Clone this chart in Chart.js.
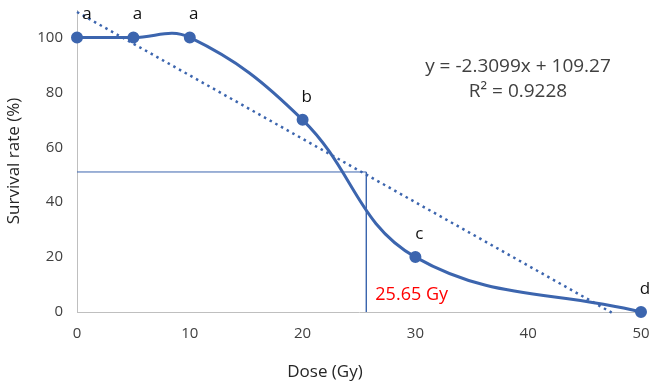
<!DOCTYPE html>
<html>
<head>
<meta charset="utf-8">
<script src="https://cdn.jsdelivr.net/npm/chart.js@4"></script>
<style>
  html, body { margin: 0; padding: 0; background: #fff; }
  #wrap { width: 650px; height: 386px; }
</style>
</head>
<body>
<div id="wrap"><canvas id="chart" width="650" height="386"></canvas></div>
<script>
// data
const dose = [0, 5, 10, 20, 30, 50];
const survival = [100, 100, 100, 70, 20, 0];
const letters = ['a', 'a', 'a', 'b', 'c', 'd'];

// linear trendline from the equation
const slope = -2.3099;
const intercept = 109.27;
const trendX = [0, 47.4];

// LD50 guide lines
const ld50Dose = 25.65;
const ld50Level = 51;

const xTicks = [0, 10, 20, 30, 40, 50];
const yTicks = [0, 20, 40, 60, 80, 100];

const blue = '#3c65ae';
const font = "'Open Sans', 'Noto Sans', sans-serif";

const points = dose.map((d, i) => ({ x: d, y: survival[i] }));
const trend = trendX.map(x => ({ x: x, y: slope * x + intercept }));
const guide = [
    { x: 0, y: ld50Level },
    { x: ld50Dose, y: ld50Level },
    { x: ld50Dose, y: 0 }
];

// letters above points, equation, LD50 text and x title
const annotations = {
    id: 'annotations',
    afterDatasetsDraw(chart) {
        const { ctx, scales } = chart;
        const xs = scales.x, ys = scales.y;
        ctx.save();
        ctx.font = '17px ' + font;
        ctx.fillStyle = '#111';
        ctx.textAlign = 'center';
        ctx.textBaseline = 'middle';
        letters.forEach((l, i) => {
            let px = xs.getPixelForValue(dose[i]) + 4;
            if (i === 0) px += 6;
            const py = ys.getPixelForValue(survival[i]) - 23;
            ctx.fillText(l, px, py);
        });

        ctx.font = '19px ' + font;
        ctx.fillStyle = '#404040';
        ctx.fillText('y = -2.3099x + 109.27', 518, 67);
        ctx.fillText('R² = 0.9228', 518, 92);

        ctx.fillStyle = '#262626';
        ctx.font = '17px ' + font;
        ctx.fillText('Dose (Gy)', 325, 372);

        ctx.font = '18px ' + font;
        ctx.fillStyle = '#ff0000';
        ctx.textAlign = 'left';
        ctx.fillText(ld50Dose + ' Gy', xs.getPixelForValue(ld50Dose) + 9, 295);
        ctx.restore();
    }
};

new Chart(document.getElementById('chart').getContext('2d'), {
    type: 'line',
    data: {
        datasets: [
            {
                label: 'Survival',
                data: points,
                borderColor: blue,
                backgroundColor: blue,
                borderWidth: 3,
                pointRadius: 4.5,
                pointHoverRadius: 4.5,
                tension: 0.4,
                clip: false,
                order: 1
            },
            {
                label: 'Trend',
                data: trend,
                borderColor: blue,
                borderWidth: 2.5,
                borderDash: [2.5, 4],
                pointRadius: 0,
                tension: 0,
                clip: false,
                order: 2
            },
            {
                label: 'LD50',
                data: guide,
                borderColor: blue,
                borderWidth: 1,
                pointRadius: 0,
                tension: 0,
                clip: false,
                order: 3
            }
        ]
    },
    options: {
        responsive: false,
        animation: false,
        layout: { padding: { top: 10, right: 9, left: 0, bottom: 0 } },
        plugins: {
            legend: { display: false },
            tooltip: { enabled: false }
        },
        scales: {
            x: {
                type: 'linear',
                min: 0,
                max: 50,
                afterFit: s => { s.height = 74; s.paddingLeft = 0; s.paddingRight = 0; },
                afterBuildTicks: s => { s.ticks = xTicks.map(v => ({ value: v })); },
                grid: { display: false, drawTicks: false },
                border: { color: '#bfbfbf', width: 1 },
                ticks: { padding: 13, color: '#404040', font: { family: font, size: 15 } },
                title: { display: false }
            },
            y: {
                min: 0,
                max: 110,
                afterFit: s => { s.width = 77; s.paddingTop = 0; s.paddingBottom = 0; },
                afterBuildTicks: s => { s.ticks = yTicks.map(v => ({ value: v })); },
                grid: { display: false, drawTicks: false },
                border: { color: '#bfbfbf', width: 1 },
                ticks: { padding: 14, color: '#404040', font: { family: font, size: 15 } },
                title: {
                    display: true,
                    text: 'Survival rate (%)',
                    color: '#262626',
                    font: { family: font, size: 17 },
                    padding: { top: 4, bottom: 4 }
                }
            }
        }
    },
    plugins: [annotations]
});
</script>
</body>
</html>
